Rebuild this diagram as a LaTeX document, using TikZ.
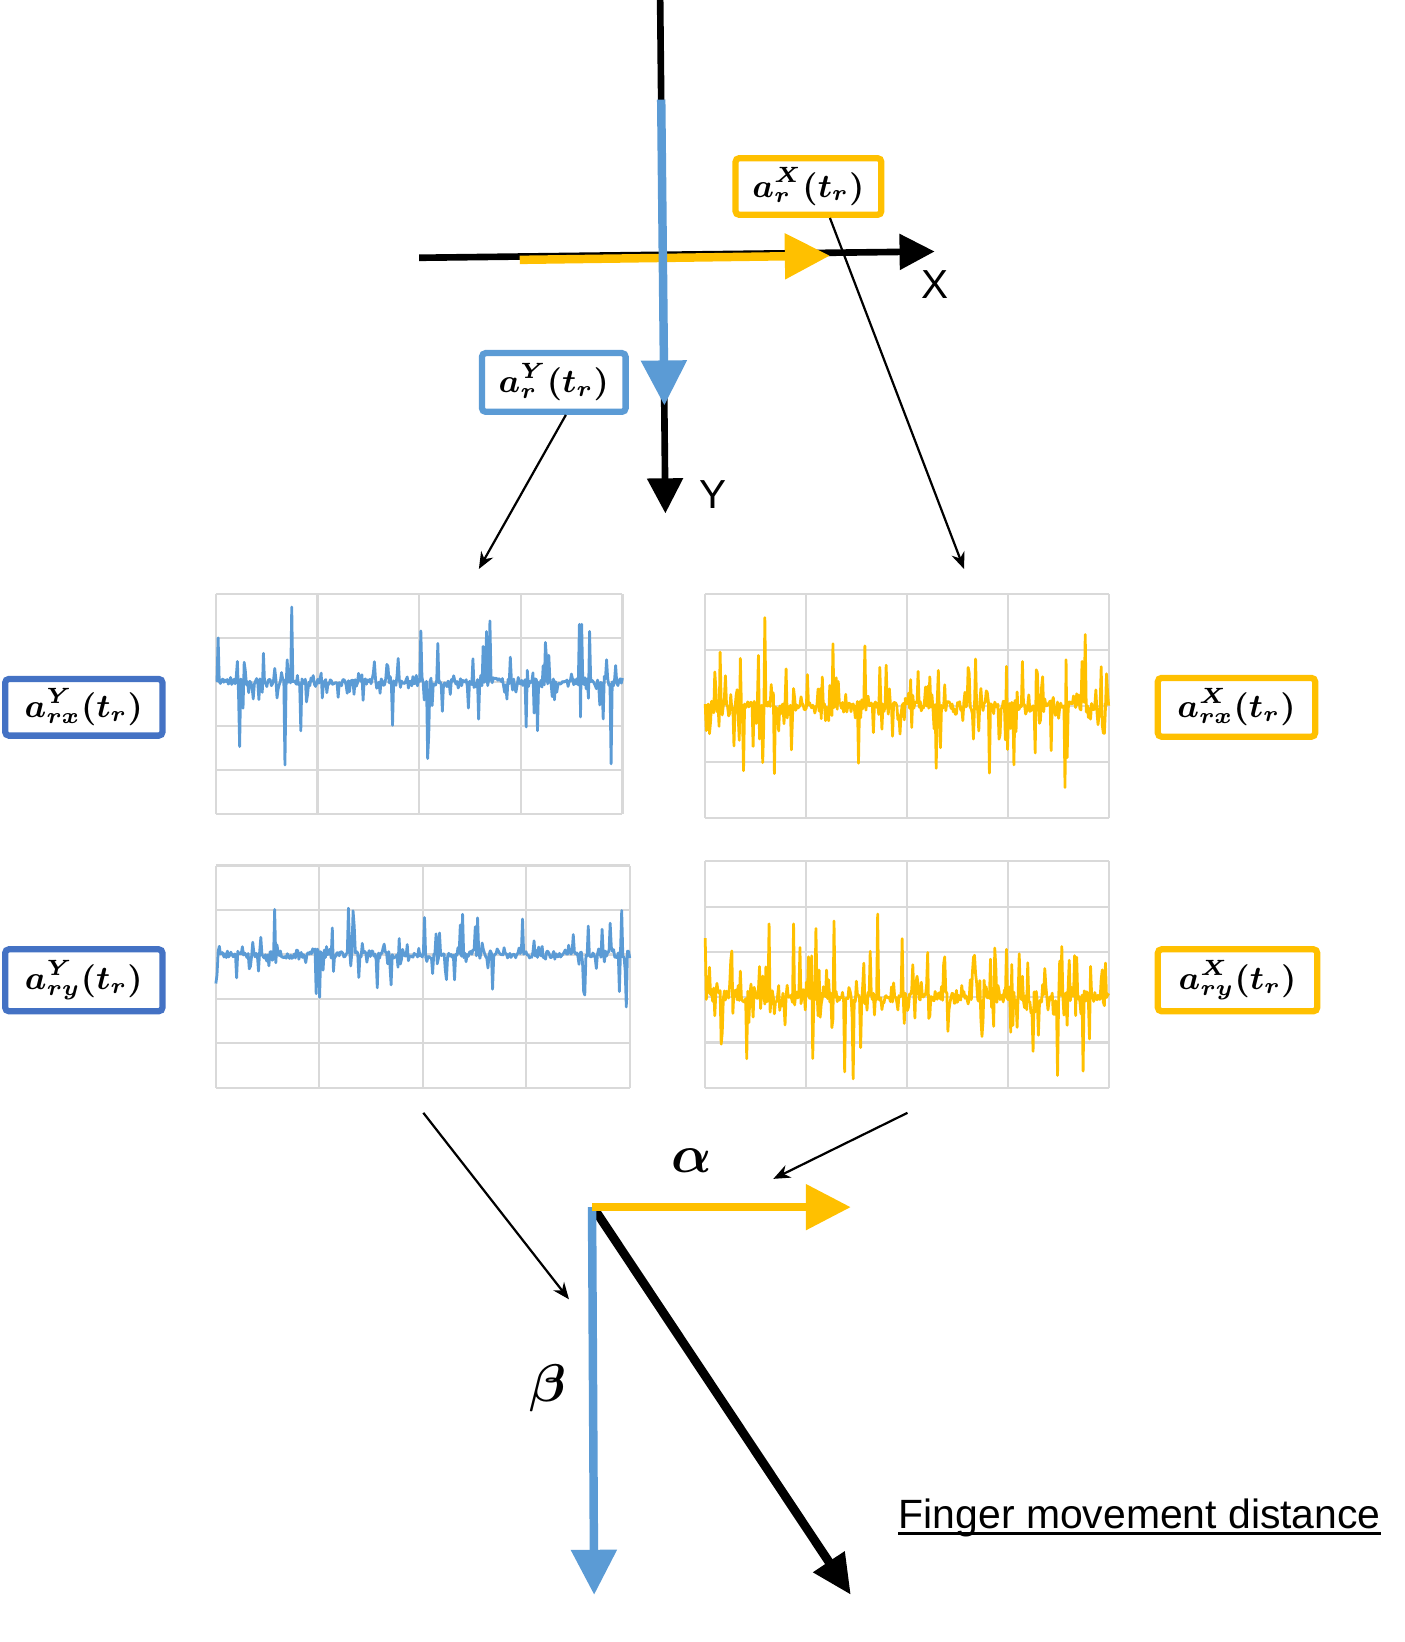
\documentclass[tikz,border=0pt]{standalone}
\usepackage{fontspec}
\usepackage{bm}
\usetikzlibrary{arrows.meta}
\setsansfont{Liberation Sans}
\definecolor{accblue}{HTML}{5B9BD5}
\definecolor{boxblue}{HTML}{4472C4}
\definecolor{accyellow}{HTML}{FFC000}
\definecolor{gridgray}{HTML}{D9D9D9}

\begin{document}
\begin{tikzpicture}[x=0.01cm, y=-0.01cm,
    axis/.style={line width=1.8pt, -{Triangle[length=0.335cm, width=0.33cm]}},
    bigarrow/.style={line width=2.3pt, -{Triangle[length=0.43cm, width=0.42cm]}},
    pointer/.style={line width=0.6pt, -{Stealth[length=0.16cm, width=0.13cm]}},
    lbl/.style={draw=#1, line width=1.7pt, rounded corners=1pt, inner sep=0pt, fill=white,
        font=\fontsize{9.2}{11}\selectfont},
    gridline/.style={gridgray, line width=0.6pt},
    sig/.style={line width=0.75pt, line join=round},
    axlbl/.style={font=\fontsize{11}{13}\sffamily}]
    \useasboundingbox (0,0) rectangle (1340,1567);
    \pgfmathsetseed{11}

    % sensor axes
    \coordinate (vtop) at (630,0);
    \coordinate (vend) at (635,490);
    \coordinate (hleft) at (400,246);
    \coordinate (hend) at (892,240);
    \draw[axis] (vtop) -- (vend);
    \draw[axis] (hleft) -- (hend);
    \draw[bigarrow, accyellow] (496,248) -- (792,244);
    \draw[bigarrow, accblue] (631,95) -- (634,387);
    \node[axlbl] (xlbl) at (892,272) {X};
    \node[axlbl] (ylbl) at (680,472) {Y};

    \node[lbl=accyellow, minimum width=1.39cm, minimum height=0.54cm] (arX) at (771.5,178)
        {$\bm{a^{X}_{r}(t_r)}$};
    \node[lbl=accblue, minimum width=1.37cm, minimum height=0.56cm] (arY) at (528.5,365)
        {$\bm{a^{Y}_{r}(t_r)}$};

    \coordinate (pY) at (457,543);
    \coordinate (pX) at (920,543);
    \draw[pointer] ([xshift=0.115cm]arY.south) -- (pY);
    \draw[pointer] ([xshift=0.205cm]arX.south) -- (pX);

    % charts: grids
    \foreach \i in {0,...,4} \draw[gridline] ({206+97*\i},567) -- ++(0,210);
    \foreach \j in {0,...,5} \draw[gridline] (206,{567+42*\j}) -- ++(388,0);
    \foreach \i in {0,...,4} \draw[gridline] ({673+96.25*\i},567) -- ++(0,214);
    \foreach \j in {0,...,4} \draw[gridline] (673,{567+53.5*\j}) -- ++(385,0);
    \foreach \i in {0,...,4} \draw[gridline] ({206+98.75*\i},826) -- ++(0,212);
    \foreach \j in {0,...,5} \draw[gridline] (206,{826+42.4*\j}) -- ++(395,0);
    \foreach \i in {0,...,4} \draw[gridline] ({673+96.25*\i},822) -- ++(0,216);
    \foreach \j in {0,...,5} \draw[gridline] (673,{822+43.2*\j}) -- ++(385,0);

    % charts: signals
    \draw[sig, accblue] plot[domain=206:594, samples=360, variable=\t]
        (\t, {651 + 3.5*rand - 88*rand*rnd^6});
    \draw[sig, accyellow] plot[domain=673:1058, samples=380, variable=\t]
        (\t, {674 + 5*rand - 95*rand*rnd^3.5});
    \draw[sig, accblue] plot[domain=206:601, samples=360, variable=\t]
        (\t, {910.8 + 3.5*rand - 82*rand*rnd^6});
    \draw[sig, accyellow] plot[domain=673:1058, samples=380, variable=\t]
        (\t, {951.6 + 5*rand - 95*rand*rnd^3.5});

    \node[lbl=boxblue, minimum width=1.50cm, minimum height=0.54cm] (arxY) at (80,675)
        {$\bm{a^{Y}_{rx}(t_r)}$};
    \node[lbl=boxblue, minimum width=1.50cm, minimum height=0.59cm] (aryY) at (80,935.5)
        {$\bm{a^{Y}_{ry}(t_r)}$};
    \node[lbl=accyellow, minimum width=1.50cm, minimum height=0.56cm] (arxX) at (1180,675)
        {$\bm{a^{X}_{rx}(t_r)}$};
    \node[lbl=accyellow, minimum width=1.52cm, minimum height=0.59cm] (aryX) at (1181,935.5)
        {$\bm{a^{X}_{ry}(t_r)}$};

    % finger frame
    \coordinate (cY) at (404,1062);
    \coordinate (cX) at (866,1062);
    \coordinate (tb) at (543,1240);
    \coordinate (ta) at (738,1125);
    \draw[pointer] (cY) -- (tb);
    \draw[pointer] (cX) -- (ta);

    \coordinate (o) at (565,1152);
    \coordinate (fend) at (812,1522);
    \coordinate (bend) at (567,1522);
    \coordinate (aend) at (812,1152);
    \draw[line width=2.4pt, -{Triangle[length=0.38cm, width=0.34cm]}] (568,1155) -- (fend);
    \draw[bigarrow, accblue] (o) -- (bend);
    \draw[bigarrow, accyellow] (o) -- (aend);
    \node[font=\fontsize{15}{18}\selectfont] (alpha) at (660,1108) {$\bm{\alpha}$};
    \node[font=\fontsize{15}{18}\selectfont] (beta) at (523,1325) {$\bm{\beta}$};

    \node[anchor=base west, inner sep=0pt, font=\fontsize{11.1}{13}\sffamily] (fmd) at (857,1459)
        {Finger movement distance};
    \draw[line width=0.7pt] ([yshift=-0.045cm]fmd.base west) -- ([yshift=-0.045cm]fmd.base east);
\end{tikzpicture}
\end{document}
